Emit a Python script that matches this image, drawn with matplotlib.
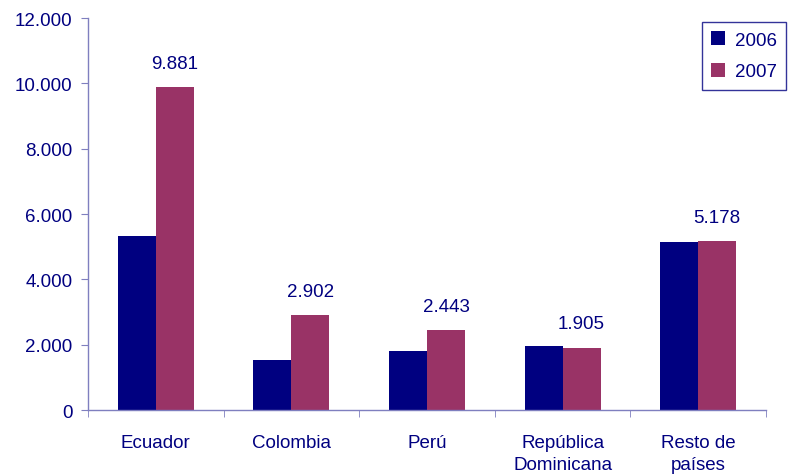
import matplotlib.pyplot as plt
import numpy as np
from matplotlib.ticker import FuncFormatter, FixedLocator

plt.rcParams['font.family'] = ['Liberation Sans', 'DejaVu Sans']

# datos
paises = ['Ecuador', 'Colombia', 'Perú', 'República\nDominicana', 'Resto de\npaíses']
v2006 = [5330, 1530, 1810, 1960, 5150]
v2007 = [9881, 2902, 2443, 1905, 5178]
ticks_y = [0, 2000, 4000, 6000, 8000, 10000, 12000]

azul = '#000080'
granate = '#993366'
eje = '#7f7fbf'

fig = plt.figure(figsize=(7.9, 4.77), dpi=100)
ax = fig.add_axes([88 / 790, 1 - 411 / 477, (766 - 88) / 790, (411 - 19) / 477])

x = np.arange(len(paises))
w = 0.28
ax.bar(x - w / 2, v2006, w, color=azul, label='2006')
b7 = ax.bar(x + w / 2, v2007, w, color=granate, label='2007')

def miles(v, pos=None):
    return f'{int(v):,}'.replace(',', '.')

# etiquetas de valor sobre 2007
for rect, v in zip(b7, v2007):
    ax.annotate(miles(v), (rect.get_x() + rect.get_width() / 2, v),
                xytext=(0, 11), textcoords='offset points',
                ha='center', va='bottom', fontsize=13.5, color=azul)

ax.set_xlim(-0.5, len(paises) - 0.5)
ax.set_ylim(0, 12000)
ax.yaxis.set_major_locator(FixedLocator(ticks_y))
ax.yaxis.set_major_formatter(FuncFormatter(miles))

ax.set_xticks(x)
ax.set_xticklabels(paises, linespacing=1.45)
ax.set_xticks(np.arange(-0.5, len(paises)), minor=True)
ax.tick_params(axis='x', which='major', length=0, pad=17)
ax.tick_params(axis='x', which='minor', length=5, color=eje, direction='out')
ax.tick_params(axis='y', length=5, color=eje, pad=6)
ax.tick_params(labelsize=13.5, labelcolor=azul)

for s in ['top', 'right']:
    ax.spines[s].set_visible(False)
for s in ['left', 'bottom']:
    ax.spines[s].set_color(eje)
    ax.spines[s].set_linewidth(1)

# leyenda pegada al borde derecho
leg = fig.legend(loc='upper left', bbox_to_anchor=(702 / 790, 1 - 23 / 477),
                 frameon=True, fancybox=False, fontsize=13.5, labelcolor=azul,
                 handlelength=0.75, handleheight=0.75, handletextpad=0.5,
                 borderpad=0.5, labelspacing=0.75, borderaxespad=0)
leg.get_frame().set_edgecolor(azul)
leg.get_frame().set_linewidth(1)

fig.savefig('out.png', dpi=100)
